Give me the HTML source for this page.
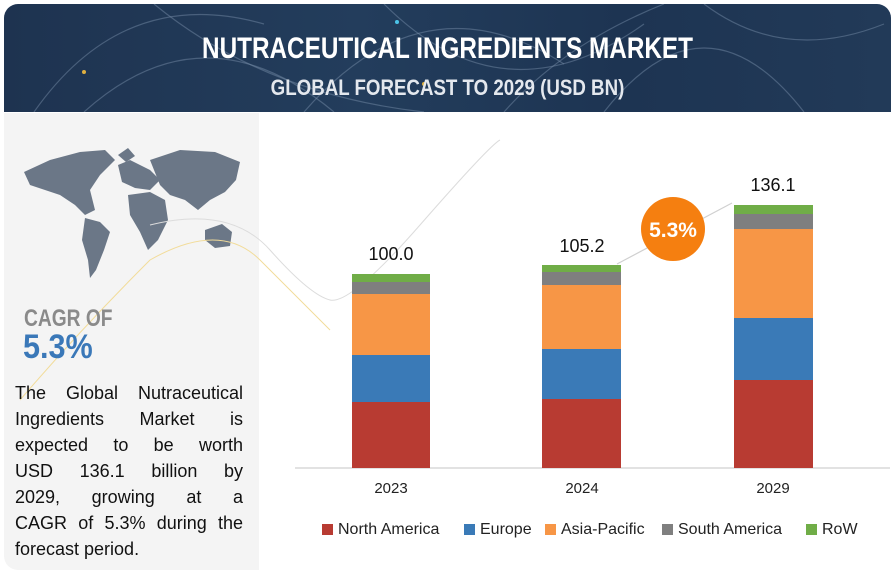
<!DOCTYPE html>
<html><head><meta charset="utf-8"><style>
*{margin:0;padding:0;box-sizing:border-box}
body{width:895px;height:573px;background:#fff;position:relative;overflow:hidden;font-family:"Liberation Sans",sans-serif}
.hdr{position:absolute;left:4px;top:4px;width:887px;height:108px;border-radius:14px 14px 0 0;background:linear-gradient(90deg,#1e3350 0%,#233d5c 40%,#1d3452 70%,#223a58 100%);overflow:hidden}
.t1{position:absolute;left:0;width:100%;top:28px;text-align:center;color:#fff;font-weight:bold;font-size:30px;transform:scaleX(0.81);white-space:nowrap}
.t2{position:absolute;left:0;width:100%;top:71px;text-align:center;color:#e4e8ee;font-weight:bold;font-size:22px;transform:scaleX(0.85);white-space:nowrap}
.left{position:absolute;left:4px;top:113px;width:255px;height:457px;background:#f4f4f4;border-radius:0 0 0 14px}
.cagr{position:absolute;left:24px;top:305px;color:#8a8a8a;font-weight:bold;font-size:24px;transform:scaleX(0.8);transform-origin:left}
.pct{position:absolute;left:23px;top:328px;color:#3a78b8;font-size:34px;font-weight:bold;transform:scaleX(0.9);transform-origin:left}
.para{position:absolute;left:15px;top:380px;width:228px;font-size:18px;line-height:26px;color:#111}
.para div{text-align:justify;text-align-last:justify;white-space:nowrap}
.para div.n{text-align-last:left}
.lbl{position:absolute;font-size:18px;color:#111;text-align:center;width:80px}
.yr{position:absolute;font-size:15px;color:#222;text-align:center;width:80px;top:480px}
.leg{position:absolute;top:521px;font-size:16px;color:#222}
.leg span{display:inline-block;width:11px;height:11px;margin-right:5px;vertical-align:-1px}
</style></head><body>
<div class="hdr">
<svg width="887" height="108" style="position:absolute;left:0;top:0">
<g fill="none" stroke="#7d92ad" stroke-opacity="0.45" stroke-width="1.2">
<path d="M30 108 Q120 -20 260 20"/><path d="M80 108 Q200 0 330 108"/><path d="M300 108 Q420 -30 560 60"/>
<path d="M380 0 Q500 120 640 20"/><path d="M600 108 Q700 -20 800 108"/><path d="M700 0 Q780 60 880 20"/>
<path d="M150 0 Q260 90 420 108"/><path d="M500 108 Q560 40 660 0"/>
</g>
<circle cx="80" cy="68" r="2" fill="#e0b040"/><circle cx="393" cy="18" r="2" fill="#4cc4e8"/><circle cx="420" cy="80" r="2" fill="#e0b040"/>
</svg>
<div class="t1">NUTRACEUTICAL INGREDIENTS MARKET</div>
<div class="t2">GLOBAL FORECAST TO 2029 (USD BN)</div>
</div>
<div class="left"></div>
<svg width="895" height="573" style="position:absolute;left:0;top:0">
<g fill="#6b7787">
<path d="M24 172 L50 160 L80 152 L105 150 L115 160 L100 175 L90 190 L95 210 L85 215 L75 205 L60 195 L45 190 L30 185 Z"/>
<path d="M85 218 L100 222 L110 232 L104 250 L96 270 L90 278 L88 260 L82 240 Z"/>
<path d="M118 165 L130 160 L150 170 L160 180 L150 190 L135 188 L122 182 Z"/>
<path d="M128 195 L150 192 L165 200 L168 220 L158 240 L148 250 L140 232 L130 215 Z"/>
<path d="M150 160 L180 150 L215 152 L240 162 L236 180 L225 192 L210 200 L198 210 L185 200 L170 195 L160 185 Z"/>
<path d="M205 230 L222 224 L232 232 L230 246 L215 248 L205 240 Z"/>
<path d="M118 155 L128 148 L135 156 L126 162 Z"/>
</g>
<g fill="none" stroke-width="1">
<path d="M150 225 Q230 205 270 250 T330 300 T420 225 T500 140" stroke="#dcdcdc"/>
<path d="M20 400 Q80 330 150 260 Q220 220 260 260 T330 330" stroke="#f2dc9a"/>
</g>
<line x1="295" y1="468" x2="890" y2="468" stroke="#d9d9d9" stroke-width="1.5"/>
<g>
<rect x="352" y="274" width="78" height="8" fill="#70ad47"/><rect x="352" y="282" width="78" height="12" fill="#7f7f7f"/><rect x="352" y="294" width="78" height="61" fill="#f79646"/><rect x="352" y="355" width="78" height="47" fill="#3a7ab7"/><rect x="352" y="402" width="78" height="66" fill="#b83b32"/>
<rect x="542" y="265" width="79" height="7" fill="#70ad47"/><rect x="542" y="272" width="79" height="13" fill="#7f7f7f"/><rect x="542" y="285" width="79" height="64" fill="#f79646"/><rect x="542" y="349" width="79" height="50" fill="#3a7ab7"/><rect x="542" y="399" width="79" height="69" fill="#b83b32"/>
<rect x="734" y="205" width="79" height="9" fill="#70ad47"/><rect x="734" y="214" width="79" height="15" fill="#7f7f7f"/><rect x="734" y="229" width="79" height="89" fill="#f79646"/><rect x="734" y="318" width="79" height="62" fill="#3a7ab7"/><rect x="734" y="380" width="79" height="88" fill="#b83b32"/>
</g>
<line x1="617" y1="264" x2="732" y2="203" stroke="#d0d0d0" stroke-width="1.2"/>
<circle cx="673" cy="229" r="32" fill="#f57f10"/>
<text x="673" y="237" text-anchor="middle" fill="#fff" font-family="Liberation Sans" font-weight="bold" font-size="21">5.3%</text>
</svg>
<div class="cagr">CAGR OF</div>
<div class="pct">5.3%</div>
<div class="para">
<div>The Global Nutraceutical</div>
<div>Ingredients Market is</div>
<div>expected to be worth</div>
<div>USD 136.1 billion by</div>
<div>2029, growing at a</div>
<div>CAGR of 5.3% during the</div>
<div class="n">forecast period.</div>
</div>
<div class="lbl" style="left:351px;top:244px">100.0</div>
<div class="lbl" style="left:542px;top:236px">105.2</div>
<div class="lbl" style="left:733px;top:175px">136.1</div>
<div class="yr" style="left:351px">2023</div>
<div class="yr" style="left:542px">2024</div>
<div class="yr" style="left:733px">2029</div>
<div class="leg" style="left:322px"><span style="background:#b83b32"></span>North America</div>
<div class="leg" style="left:464px"><span style="background:#3a7ab7"></span>Europe</div>
<div class="leg" style="left:545px"><span style="background:#f79646"></span>Asia-Pacific</div>
<div class="leg" style="left:662px"><span style="background:#7f7f7f"></span>South America</div>
<div class="leg" style="left:806px"><span style="background:#70ad47"></span>RoW</div>
</body></html>
